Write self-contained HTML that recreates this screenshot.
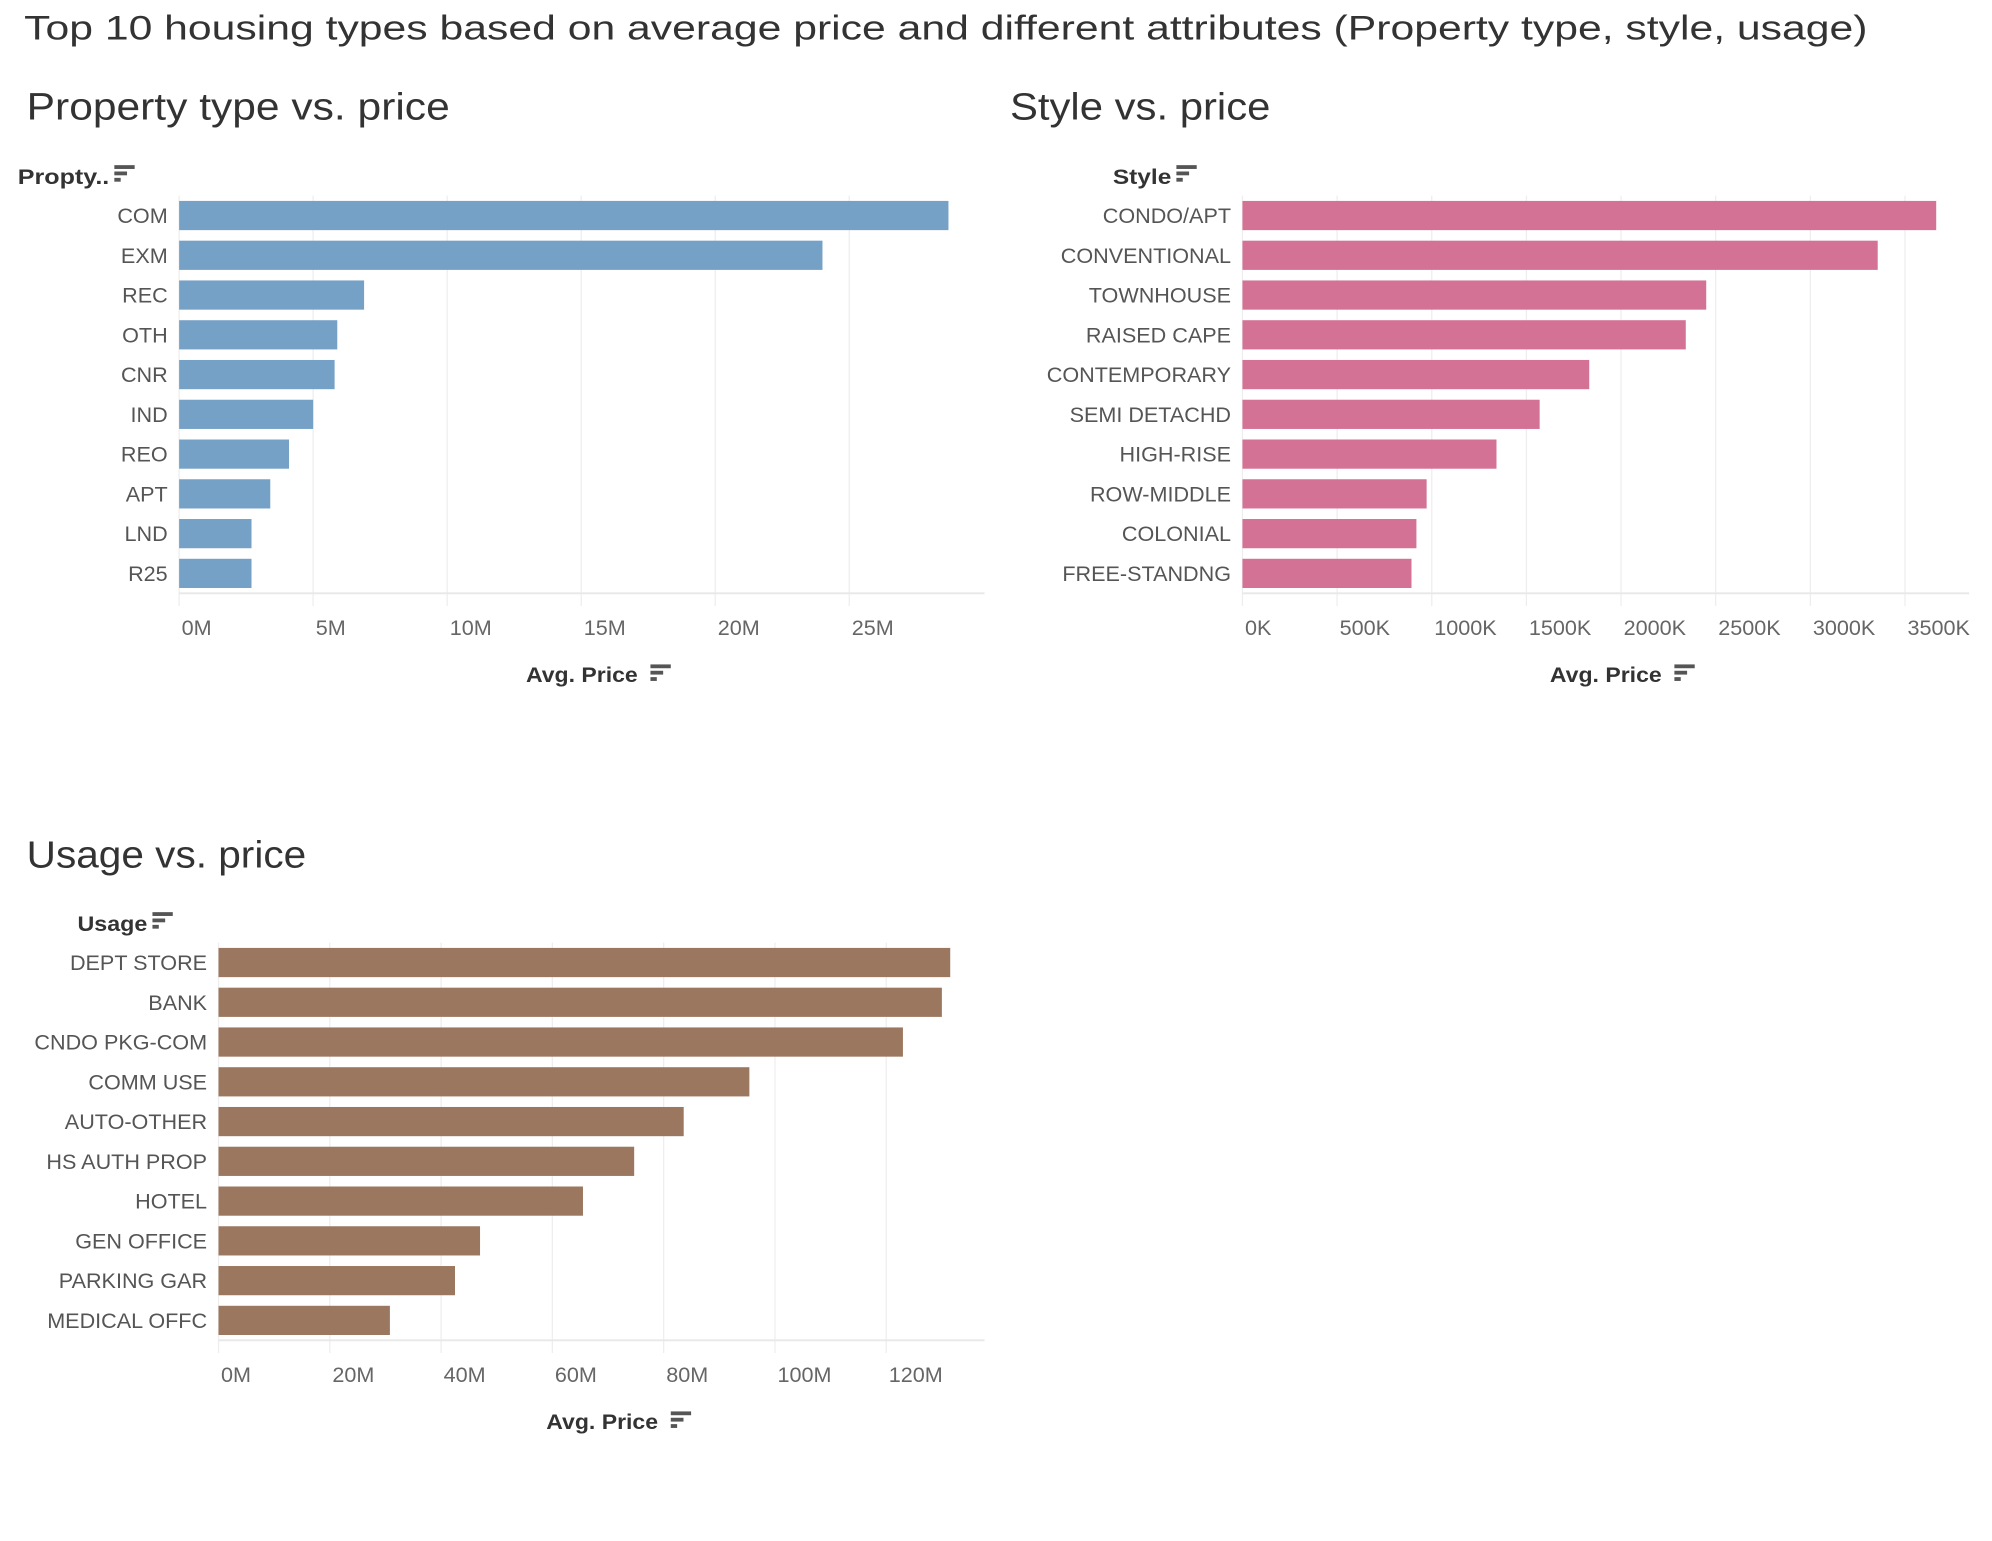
<!DOCTYPE html>
<html><head><meta charset="utf-8"><style>
html,body{margin:0;padding:0;background:#fff}
svg{display:block}
text{font-family:"Liberation Sans",sans-serif}
</style></head><body>
<svg id="root" xmlns="http://www.w3.org/2000/svg" width="1992" height="1541" viewBox="0 0 1568 1213">
<text x="19" y="31" font-size="27" fill="#333" textLength="1451" lengthAdjust="spacingAndGlyphs">Top 10 housing types based on average price and different attributes (Property type, style, usage)</text>
<text x="21" y="94" font-size="30" fill="#333" textLength="333" lengthAdjust="spacingAndGlyphs">Property type vs. price</text>
<text x="795" y="94" font-size="30" fill="#333" textLength="205" lengthAdjust="spacingAndGlyphs">Style vs. price</text>
<text x="21" y="683" font-size="30" fill="#333" textLength="220" lengthAdjust="spacingAndGlyphs">Usage vs. price</text>
<g id="c1"></g><g id="c2"></g><g id="c3"></g>
</svg>
<script>
const propCats=["COM","EXM","REC","OTH","CNR","IND","REO","APT","LND","R25"];
const propVals=[28.7,24.0,6.9,5.9,5.8,5.0,4.1,3.4,2.7,2.7];
const propTicks=[0,5,10,15,20,25];
const propTickLabels=["0M","5M","10M","15M","20M","25M"];

const styleCats=["CONDO/APT","CONVENTIONAL","TOWNHOUSE","RAISED CAPE","CONTEMPORARY","SEMI DETACHD","HIGH-RISE","ROW-MIDDLE","COLONIAL","FREE-STANDNG"];
const styleVals=[3665,3356,2450,2342,1832,1570,1342,973,919,893];
const styleTicks=[0,500,1000,1500,2000,2500,3000,3500];
const styleTickLabels=["0K","500K","1000K","1500K","2000K","2500K","3000K","3500K"];

const useCats=["DEPT STORE","BANK","CNDO PKG-COM","COMM USE","AUTO-OTHER","HS AUTH PROP","HOTEL","GEN OFFICE","PARKING GAR","MEDICAL OFFC"];
const useVals=[131.5,130,123,95.4,83.6,74.7,65.5,47.0,42.5,30.8];
const useTicks=[0,20,40,60,80,100,120];
const useTickLabels=["0M","20M","40M","60M","80M","100M","120M"];

const NS="http://www.w3.org/2000/svg";
function mk(parent,tag,attrs,txt){const e=document.createElementNS(NS,tag);for(const k in attrs)e.setAttribute(k,attrs[k]);if(txt!==undefined)e.textContent=txt;parent.appendChild(e);return e;}
function sortIcon(g,x,y){
  const a=mk(g,'g',{});
  
  
  mk(a,'rect',{x:x,y:y,width:16,height:3,fill:'#555'});
  mk(a,'rect',{x:x,y:y+5,width:10,height:3,fill:'#555'});
  mk(a,'rect',{x:x,y:y+10,width:5,height:3,fill:'#555'});
}
function chart(id,cfg){
  const g=document.getElementById(id);
  const {cats,vals,ticks,labels,left,right,top,step,pxPerUnit,color,catX,fieldLabel,fieldX,fieldW,name,axisTitleX}=cfg;
  const x=v=>left+v*pxPerUnit;
  const axisY=top+step*cats.length;
  ticks.forEach((t,i)=>{
    const l=mk(g,'line',{x1:x(t),x2:x(t),y1:top,y2:axisY+10,stroke:'#eeeeee','stroke-width':1});
    
    
    const tx=mk(g,'text',{x:x(t)+2,y:axisY+33,'font-size':17,fill:'#666'},labels[i]);
    
    
  });
  const ax=mk(g,'line',{x1:left,x2:right,y1:axisY,y2:axisY,stroke:'#e8e8e8','stroke-width':1.5});
  
  
  cats.forEach((c,i)=>{
    const cy=top+step*i+step/2;
    const r=mk(g,'rect',{x:left,y:cy-11.5,width:Math.max(0,x(vals[i])-left),height:23,fill:color});
    
    
    const t=mk(g,'text',{x:catX,y:cy+6,'font-size':17,fill:'#555','text-anchor':'end'},c);
    
    
  });
  const f=mk(g,'text',{x:fieldX,y:top-9,'font-size':17,'font-weight':'bold',fill:'#333',textLength:fieldW,lengthAdjust:'spacingAndGlyphs'},fieldLabel);
  
  
  sortIcon(g,fieldX+fieldW+4,top-24);
  const at=mk(g,'text',{x:axisTitleX,y:axisY+70,'font-size':17,'font-weight':'bold',fill:'#333',textLength:88,lengthAdjust:'spacingAndGlyphs'},'Avg. Price');
  
  
  sortIcon(g,axisTitleX+98,axisY+56);
}
chart('c1',{cats:propCats,vals:propVals,ticks:propTicks,labels:propTickLabels,left:141,right:775,top:154,step:31.3,pxPerUnit:105.5/5,color:'#75a1c7',catX:132,fieldLabel:'Propty..',fieldX:14,fieldW:72,name:'property',axisTitleX:414});
chart('c2',{cats:styleCats,vals:styleVals,ticks:styleTicks,labels:styleTickLabels,left:978,right:1550,top:154,step:31.3,pxPerUnit:74.5/500,color:'#d37295',catX:969,fieldLabel:'Style',fieldX:876,fieldW:46,name:'style',axisTitleX:1220});
chart('c3',{cats:useCats,vals:useVals,ticks:useTicks,labels:useTickLabels,left:172,right:775,top:742,step:31.3,pxPerUnit:87.6/20,color:'#9c7760',catX:163,fieldLabel:'Usage',fieldX:61,fieldW:55,name:'usage',axisTitleX:430});
</script>
</body></html>
